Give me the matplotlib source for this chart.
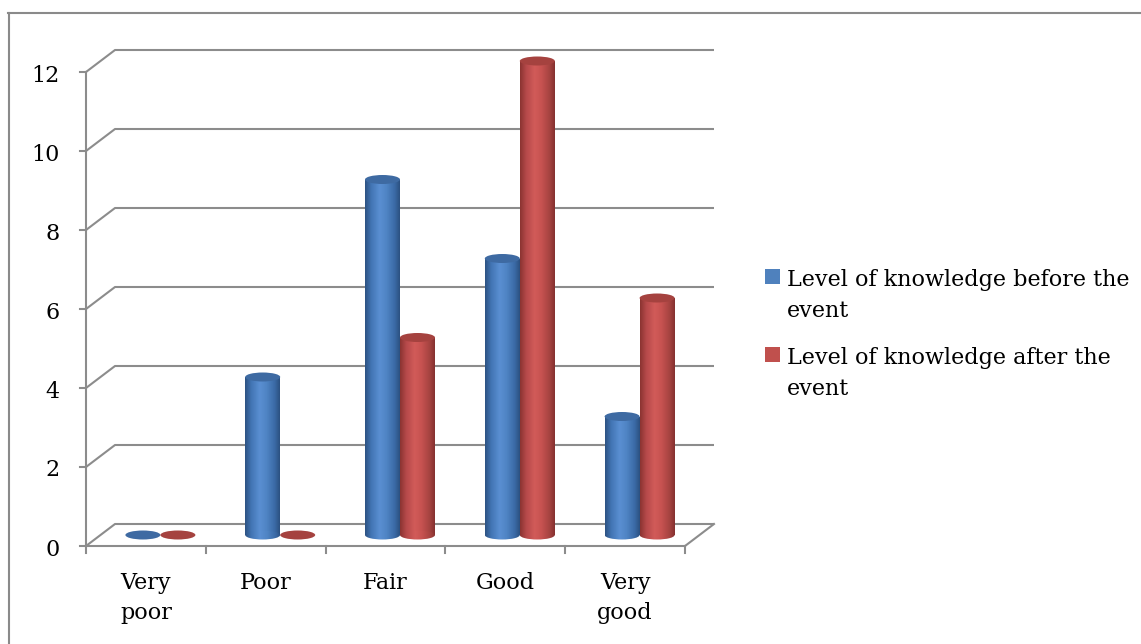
import numpy as np
import matplotlib
matplotlib.use("Agg")
import matplotlib.pyplot as plt
from matplotlib.patches import Ellipse, Rectangle
from matplotlib.colors import LinearSegmentedColormap

# ---- data -------------------------------------------------------------
categories = ["Very\npoor", "Poor", "Fair", "Good", "Very\ngood"]
before_event = [0, 4, 9, 7, 3]
after_event = [0, 0, 5, 12, 6]
series_labels = ["Level of knowledge before the\nevent",
                 "Level of knowledge after the\nevent"]
y_ticks = [0, 2, 4, 6, 8, 10, 12]

# ---- style ------------------------------------------------------------
W, H, DPI = 1141, 644, 100
FONT = "DejaVu Serif"
FS = 16
GRID = "#8c8c8c"

blue_cmap = LinearSegmentedColormap.from_list(
    "blue_cyl", [(0.0, "#2c5282"), (0.18, "#4275b4"), (0.42, "#5a8fd2"),
                 (0.62, "#4f84c4"), (0.85, "#3b6aa6"), (1.0, "#2b5080")])
red_cmap = LinearSegmentedColormap.from_list(
    "red_cyl", [(0.0, "#8a3331"), (0.18, "#b5494a"), (0.42, "#d25b59"),
                (0.62, "#c65250"), (0.85, "#a54340"), (1.0, "#84302f")])
top_colors = ["#3e6aa2", "#a5423f"]

fig = plt.figure(figsize=(W / DPI, H / DPI), dpi=DPI)
fig.patch.set_facecolor("white")

# Axes spanning the whole figure; the front plane of the chart is
# x in [0, 5] (categories) and y in [0, 12] (values).
ax = fig.add_axes([0, 0, 1, 1])
x_left_px, x_right_px = 86, 685
y0_px, y12_px = 546, 72
px_per_x = (x_right_px - x_left_px) / len(categories)
px_per_y = (y0_px - y12_px) / 12.0
ax.axis("off")

# depth offset of the back wall (in data units)
dx = 29 / px_per_x
dy = 22 / px_per_y
n = len(categories)


def multiline(x, y_first, text, line_px, **kw):
    """Place each line of `text` on its own baseline, line_px apart."""
    for k, line in enumerate(text.split("\n")):
        ax.text(x, y_first - k * line_px / px_per_y, line, va="baseline",
                fontsize=FS, family=FONT, color="black", **kw)


# back-wall gridlines with their diagonal links to the front axis
for v in y_ticks:
    ax.plot([0, dx, n + dx], [v, v + dy, v + dy], color=GRID, lw=1.5,
            solid_capstyle="butt", zorder=1)
    ax.plot([-6 / px_per_x, 0], [v, v], color=GRID, lw=1.5, zorder=1)
    ax.text(-26 / px_per_x, v - 9.5 / px_per_y, str(v), ha="right",
            va="baseline", fontsize=FS, family=FONT, color="black")

# front vertical axis and floor
ax.plot([0, 0], [0, 12], color=GRID, lw=1.5, zorder=1)
ax.plot([0, n], [0, 0], color=GRID, lw=1.5, zorder=1)
ax.plot([n, n + dx], [0, dy], color=GRID, lw=1.5, zorder=1)
for i in range(n + 1):
    ax.plot([i, i], [0, -7 / px_per_y], color=GRID, lw=1.5, zorder=1)

# category labels
for i, lab in enumerate(categories):
    multiline(i + 0.5, -43 / px_per_y, lab, 30, ha="center")

# cylinders, sitting halfway into the depth of the chart
cyl_w = 35 / px_per_x
ell_h = 9 / px_per_y
grad = np.linspace(0, 1, 256).reshape(1, -1)


def cylinder(xc, value, cmap, top_color, z):
    x0, x1 = xc - cyl_w / 2, xc + cyl_w / 2
    yb = dy / 2
    yt = yb + value
    if value > 0:
        body = Rectangle((x0, yb), cyl_w, value, transform=ax.transData)
        bottom = Ellipse((xc, yb), cyl_w, ell_h, transform=ax.transData)
        for clip in (body, bottom):
            im = ax.imshow(grad, cmap=cmap, aspect="auto",
                           extent=[x0, x1, yb - ell_h, yt],
                           interpolation="bilinear", zorder=z)
            im.set_clip_path(clip)
    ax.add_patch(Ellipse((xc, yt), cyl_w, ell_h, facecolor=top_color,
                         edgecolor="none", zorder=z + 0.1))


for i in range(n):
    xc = i + 0.5 + dx / 2
    cylinder(xc - cyl_w / 2, before_event[i], blue_cmap, top_colors[0], 3)
    cylinder(xc + cyl_w / 2, after_event[i], red_cmap, top_colors[1], 4)

ax.set_xlim(-x_left_px / px_per_x, (W - x_left_px) / px_per_x)
ax.set_ylim(-(H - y0_px) / px_per_y, y0_px / px_per_y)

# legend: colour key squares and wrapped labels
legend_colors = ["#4f81bd", "#c0504d"]
legend_square_tops = [269, 347]
legend_baselines = [286, 364]
for lab, col, ty, by in zip(series_labels, legend_colors,
                            legend_square_tops, legend_baselines):
    fig.patches.append(Rectangle((765 / W, 1 - (ty + 15) / H), 15 / W, 15 / H,
                                 transform=fig.transFigure, facecolor=col,
                                 edgecolor="none"))
    multiline((787 - x_left_px) / px_per_x, (y0_px - by) / px_per_y, lab, 31,
              ha="left")

# outer frame (top and left edges visible)
fig.lines.append(plt.Line2D([8 / W, 1], [1 - 13 / H, 1 - 13 / H],
                            transform=fig.transFigure, color="#8a8a8a", lw=1.5))
fig.lines.append(plt.Line2D([8.5 / W, 8.5 / W], [0, 1 - 13 / H],
                            transform=fig.transFigure, color="#8a8a8a", lw=1.5))

fig.savefig("out.png", dpi=DPI, facecolor="white")
